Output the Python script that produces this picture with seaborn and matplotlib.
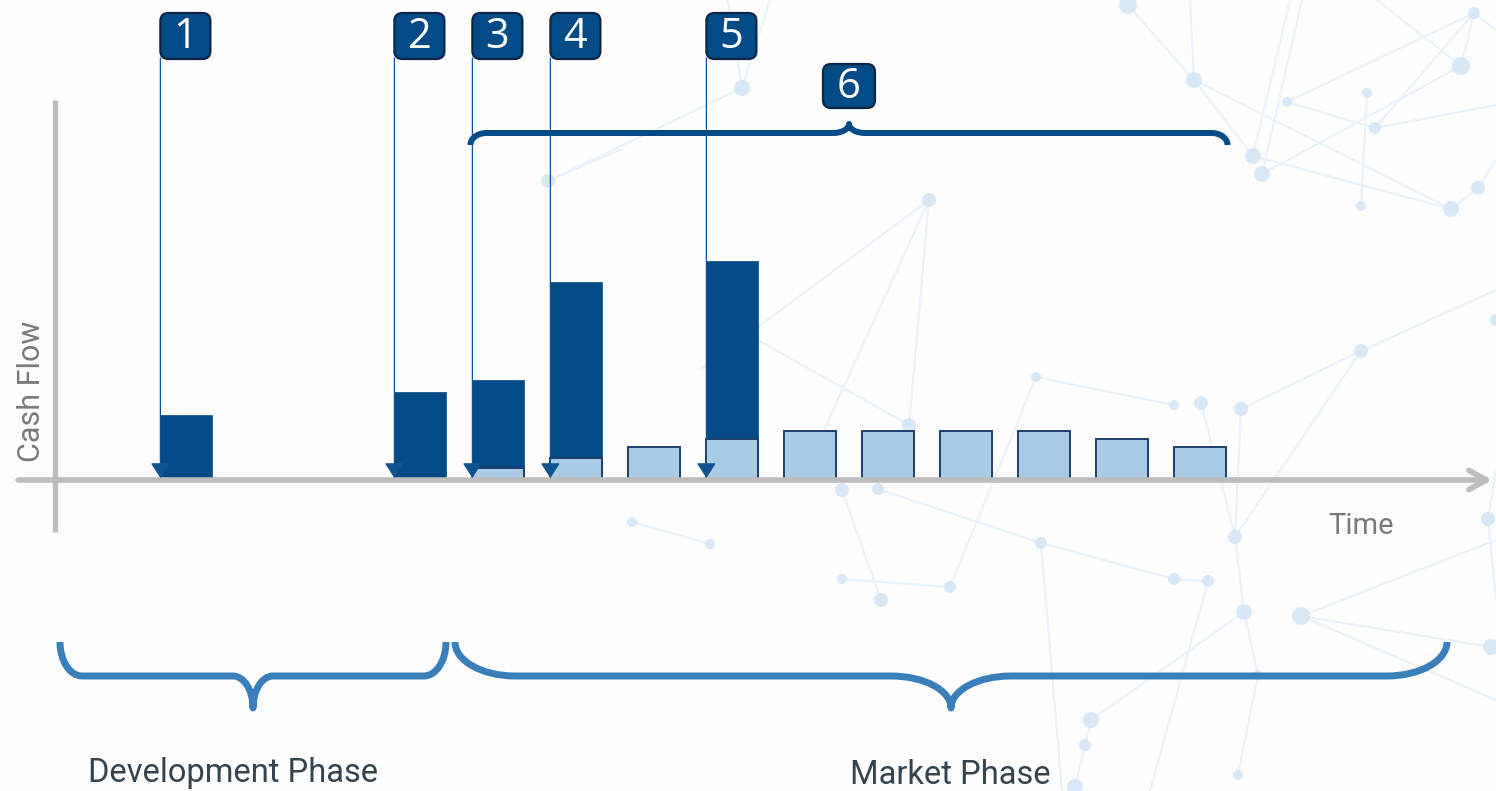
import numpy as np
import pandas as pd
import matplotlib
matplotlib.use("Agg")
import matplotlib.pyplot as plt
from matplotlib.path import Path
from matplotlib.patches import PathPatch, FancyBboxPatch, FancyArrowPatch
import seaborn as sns

# ---- data -----------------------------------------------------------------
periods = list(range(14))

# milestone payments (upfront, development and approval/sales milestones)
milestone_periods = [0, 3, 4, 5, 7]
milestone_values = [6.5, 8.8, 8.8, 17.6, 17.8]
milestone_labels = ["1", "2", "3", "4", "5"]

# royalty income over the market phase
royalty_periods = [4, 5, 6, 7, 8, 9, 10, 11, 12, 13]
royalty_values = [1.2, 2.2, 3.3, 4.1, 4.9, 4.9, 4.9, 4.9, 4.1, 3.3]
royalty_label = "6"

phase_labels = ["Development Phase", "Market Phase"]
y_label = "Cash Flow"
x_label = "Time"

# ---- decorative network in the background (pixel space) -------------------
net_nodes = [
    (1128, 5, 9), (1194, 80, 8), (1287, 102, 5), (1367, 93, 5), (1375, 128, 6),
    (1253, 156, 8), (1262, 174, 8), (1361, 206, 5), (1451, 209, 8), (1478, 188, 7),
    (1461, 66, 9), (1474, 13, 6), (742, 88, 8), (548, 181, 7), (929, 200, 7),
    (1361, 351, 7), (1036, 377, 5), (1174, 405, 5), (1201, 403, 7), (1241, 409, 7),
    (909, 425, 7), (842, 490, 7), (878, 489, 6), (632, 522, 5), (710, 544, 5),
    (1041, 543, 6), (1235, 537, 7), (842, 579, 5), (950, 587, 6), (881, 600, 7),
    (1174, 579, 6), (1208, 581, 6), (1244, 612, 8), (1301, 616, 9), (1491, 647, 8),
    (1488, 519, 7), (1496, 320, 6), (1258, 675, 5), (1091, 720, 8), (1085, 745, 6),
    (1075, 787, 8), (1238, 775, 5),
]
net_edges = [
    ((1194, 80), (1128, 5)), ((1194, 80), (1190, 0)), ((1194, 80), (1253, 156)),
    ((1194, 80), (1451, 209)), ((1253, 156), (1290, 0)), ((1262, 174), (1302, 0)),
    ((1262, 174), (1461, 66)), ((1253, 156), (1451, 209)), ((1287, 102), (1375, 128)),
    ((1287, 102), (1474, 13)), ((1375, 128), (1474, 13)), ((1375, 128), (1496, 105)),
    ((1367, 93), (1361, 206)), ((1461, 66), (1474, 13)), ((1377, 0), (1461, 66)),
    ((1474, 13), (1496, 30)), ((1451, 209), (1478, 188)), ((1478, 188), (1496, 160)),
    ((742, 88), (728, 0)), ((742, 88), (770, 0)), ((742, 88), (548, 181)),
    ((548, 181), (620, 150)), ((929, 200), (700, 370)), ((929, 200), (824, 430)),
    ((929, 200), (909, 425)), ((909, 425), (740, 330)), ((1036, 377), (1174, 405)),
    ((1036, 377), (950, 587)), ((1201, 403), (1235, 537)), ((1241, 409), (1235, 537)),
    ((1241, 409), (1361, 351)), ((1361, 351), (1496, 290)), ((1361, 351), (1235, 537)),
    ((842, 490), (881, 600)), ((878, 489), (1041, 543)), ((1041, 543), (1174, 579)),
    ((1174, 579), (1208, 581)), ((1041, 543), (1062, 791)), ((632, 522), (710, 544)),
    ((842, 579), (950, 587)), ((1235, 537), (1244, 612)), ((1244, 612), (1258, 675)),
    ((1244, 612), (1091, 720)), ((1301, 616), (1496, 540)), ((1301, 616), (1491, 647)),
    ((1091, 720), (1085, 745)), ((1085, 745), (1075, 787)), ((1208, 581), (1150, 791)),
    ((1488, 519), (1496, 470)), ((1488, 519), (1496, 600)), ((1258, 675), (1238, 775)),
    ((1301, 616), (1496, 700)),
]

# ---- styling --------------------------------------------------------------
DARK = "#034b87"
LIGHT = "#aacbe6"
LIGHT_EDGE = "#1d3f70"
BOX_EDGE = "#0c2646"
ARROW = "#0f5490"
AXIS_GREY = "#bdbdbd"
BRACE_LOW = "#3a7fb9"
TEXT_DARK = "#34444f"
TEXT_GREY = "#7a7a7a"
NODE = "#d3e5f6"
EDGE = "#e9f1fa"

sns.set_theme(style="white")
plt.rcParams["font.family"] = ["Roboto", "DejaVu Sans"]

W, H = 1496, 791
fig = plt.figure(figsize=(W / 100, H / 100), dpi=100)
fig.patch.set_facecolor("#fdfdfd")

# background network
bg = fig.add_axes([0, 0, 1, 1])
bg.set_xlim(0, W)
bg.set_ylim(H, 0)
bg.set_axis_off()
for (a, b) in net_edges:
    bg.plot([a[0], b[0]], [a[1], b[1]], color=EDGE, lw=1.5, zorder=1,
            solid_capstyle="round")
for (x, y, r) in net_nodes:
    bg.add_patch(plt.Circle((x, y), r, color=NODE, alpha=0.85, zorder=2, lw=0))

# main chart: one x unit per period, 10 px per cash unit
ax = fig.add_axes([0, 0, 1, 1])
ax.patch.set_alpha(0)
PX_X, PX_Y = 78.0, 10.0
X0_PX, Y0_PX = 186.0, 480.0
xlim = (-X0_PX / PX_X, (W - X0_PX) / PX_X)
ylim = ((Y0_PX - H) / PX_Y, Y0_PX / PX_Y)

bar_w = 52 / PX_X

royalty = dict(zip(royalty_periods, royalty_values))
df_total = pd.DataFrame({
    "period": milestone_periods,
    "value": [m + royalty.get(p, 0.0) for p, m in zip(milestone_periods, milestone_values)],
})
df_roy = pd.DataFrame({"period": royalty_periods, "value": royalty_values})

sns.barplot(data=df_total, x="period", y="value", order=periods, color=DARK,
            saturation=1, width=bar_w, errorbar=None, edgecolor=DARK,
            linewidth=0.5, ax=ax, zorder=3)
sns.barplot(data=df_roy, x="period", y="value", order=periods, color=LIGHT,
            saturation=1, width=bar_w, errorbar=None, edgecolor=LIGHT_EDGE,
            linewidth=1.4, ax=ax, zorder=4)

ax.set_xlim(*xlim)
ax.set_ylim(*ylim)
ax.set_axis_off()

# axes drawn as thick grey lines, time axis with an arrow head
ax.plot([(55 - X0_PX) / PX_X] * 2, [38.0, -5.2], color=AXIS_GREY, lw=3.8,
        solid_capstyle="butt", zorder=6)
ax.add_patch(FancyArrowPatch(((18 - X0_PX) / PX_X, 0), ((1492 - X0_PX) / PX_X, 0),
                             arrowstyle="->,head_length=0.9,head_width=0.5",
                             mutation_scale=14, color=AXIS_GREY, lw=4.0,
                             shrinkA=0, shrinkB=0, zorder=6))


def label_box(xc, y_top, text, w=50 / PX_X, h=4.6):
    r = 8 / PX_X
    aspect = PX_X / PX_Y
    box = FancyBboxPatch((xc - w / 2 + r, y_top - h + r * aspect),
                         w - 2 * r, h - 2 * r * aspect,
                         boxstyle=f"round,pad={r},rounding_size={r}",
                         mutation_aspect=aspect, facecolor=DARK,
                         edgecolor=BOX_EDGE, lw=1.6, zorder=8)
    ax.add_patch(box)
    ax.text(xc, y_top - h / 2 - 0.1, text, ha="center", va="center",
            color="white", fontsize=30, family=["Open Sans", "DejaVu Sans"],
            zorder=9)


# milestone markers: box on top, thin line with arrow head down to the axis
for p, lab in zip(milestone_periods, milestone_labels):
    xl = p - bar_w / 2 + 0.005
    ax.add_patch(FancyArrowPatch((xl, 42.2), (xl, 0.2),
                                 arrowstyle="-|>,head_length=0.85,head_width=0.55",
                                 mutation_scale=11, color=ARROW, lw=0.9,
                                 shrinkA=0, shrinkB=0, zorder=7))
    label_box(xl + 25 / PX_X, 46.7, lab)


def brace(x0, x1, y_h, end_dy, cusp_dy, end_rx, cusp_rx, color, lw):
    """Curly brace from x0 to x1; ends at y_h+end_dy, cusp at y_h+cusp_dy."""
    k = 0.552
    xm = (x0 + x1) / 2
    ye, yc = y_h + end_dy, y_h + cusp_dy
    verts = [
        (x0, ye),
        (x0, ye + k * (y_h - ye)), (x0 + (1 - k) * end_rx, y_h), (x0 + end_rx, y_h),
        (xm - cusp_rx, y_h),
        (xm - cusp_rx + k * cusp_rx, y_h), (xm, yc + k * (y_h - yc)), (xm, yc),
        (xm, yc + k * (y_h - yc)), (xm + cusp_rx - k * cusp_rx, y_h), (xm + cusp_rx, y_h),
        (x1 - end_rx, y_h),
        (x1 - (1 - k) * end_rx, y_h), (x1, ye + k * (y_h - ye)), (x1, ye),
    ]
    codes = [Path.MOVETO,
             Path.CURVE4, Path.CURVE4, Path.CURVE4,
             Path.LINETO,
             Path.CURVE4, Path.CURVE4, Path.CURVE4,
             Path.CURVE4, Path.CURVE4, Path.CURVE4,
             Path.LINETO,
             Path.CURVE4, Path.CURVE4, Path.CURVE4]
    ax.add_patch(PathPatch(Path(verts, codes), facecolor="none", edgecolor=color,
                           lw=lw, capstyle="butt", joinstyle="round", zorder=5))
    return xm


# royalty stream brace with its label
r0 = royalty_periods[0] - bar_w / 2 - 0.02
r1 = royalty_periods[-1] + bar_w / 2 + 0.02
xm6 = brace(r0, r1, 34.7, -1.2, 0.9, 16 / PX_X, 16 / PX_X, DARK, 4.3)
label_box(xm6, 41.6, royalty_label, w=52 / PX_X, h=4.4)

# phase braces below the chart
dev_x0, dev_x1 = (60 - X0_PX) / PX_X, milestone_periods[1] + bar_w / 2
mkt_x0, mkt_x1 = (455 - X0_PX) / PX_X, (1447 - X0_PX) / PX_X
brace(dev_x0, dev_x1, -19.6, 3.4, -3.2, 22 / PX_X, 20 / PX_X, BRACE_LOW, 5.0)
brace(mkt_x0, mkt_x1, -19.6, 3.4, -3.2, 60 / PX_X, 60 / PX_X, BRACE_LOW, 5.0)

ax.text((233 - X0_PX) / PX_X, -29.3, phase_labels[0], ha="center", va="center",
        color=TEXT_DARK, fontsize=23.5)
ax.text((950 - X0_PX) / PX_X, -29.5, phase_labels[1], ha="center", va="center",
        color=TEXT_DARK, fontsize=23.5)

ax.text((1361 - X0_PX) / PX_X, -4.6, x_label, ha="center", va="center",
        color=TEXT_GREY, fontsize=21)
ax.text((31 - X0_PX) / PX_X, 8.9, y_label, ha="center", va="center",
        rotation=90, color=TEXT_GREY, fontsize=22)

fig.savefig("out.png", dpi=100, facecolor=fig.get_facecolor())
